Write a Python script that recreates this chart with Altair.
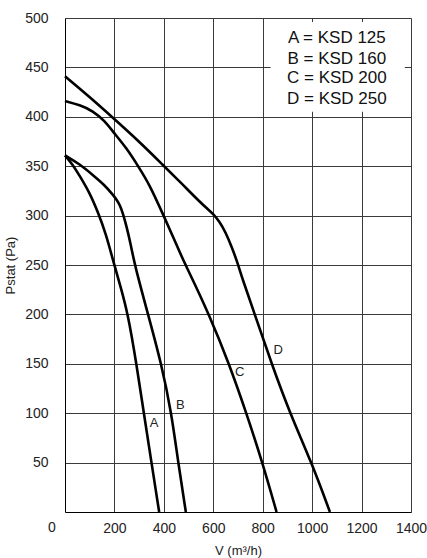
import altair as alt
import pandas as pd

FONT = "Liberation Sans"

a_x = [0, 30, 60, 100, 134, 165, 194, 225, 255, 289, 319, 350, 381]
a_y = [361, 352, 340, 323, 303, 282, 255, 228, 200, 150, 100, 50, 0]

b_x = [0, 60, 113, 160, 194, 212, 221, 235, 249, 265, 282, 336, 390, 431, 458, 489]
b_y = [361, 352, 341, 331, 321, 315, 311, 302, 289, 272, 250, 200, 150, 100, 50, 0]

c_x = [0, 60, 113, 160, 194, 250, 296, 343, 397, 440, 478, 498, 583, 664, 734, 799, 856]
c_y = [416, 412, 406, 396, 385, 368, 350, 331, 301, 277, 255, 245, 200, 150, 100, 50, 0]

d_x = [0, 100, 194, 300, 397, 470, 545, 580, 599, 625, 650, 675, 700, 715, 768, 836, 910, 998, 1072]
d_y = [441, 420, 399, 375, 351, 333, 314, 306, 302, 294, 283, 268, 251, 238, 200, 150, 100, 50, 0]

curve_names = ["A", "B", "C", "D"]
label_x = [360, 467, 707, 863]
label_y = [90, 108, 142, 164]

legend_lines = ["A = KSD 125", "B = KSD 160", "C = KSD 200", "D = KSD 250"]
legend_y = [480, 459, 439, 418]

x_ticks = [200, 400, 600, 800, 1000, 1200, 1400]
y_ticks = [50, 100, 150, 200, 250, 300, 350, 400, 450, 500]

rows = []
for name, xs_, ys_ in zip(curve_names, [a_x, b_x, c_x, d_x], [a_y, b_y, c_y, d_y]):
    for xv, yv in zip(xs_, ys_):
        rows.append({"V": xv, "P": yv, "curve": name})
curves_df = pd.DataFrame(rows)

xs = alt.Scale(domain=[0, 1400], nice=False, zero=False)
ys = alt.Scale(domain=[0, 500], nice=False, zero=False)

x_axis = alt.Axis(values=x_ticks, title="V (m³/h)", grid=True, tickSize=0, format="d",
                  labelPadding=9, titlePadding=9, labelFontSize=14, titleFontSize=13,
                  titleFontWeight="normal", labelFont=FONT, titleFont=FONT,
                  labelColor="#222", titleColor="#222", gridColor="#3a3a3a",
                  domainColor="#000", labelFlush=False)
y_axis = alt.Axis(values=y_ticks, title="Pstat (Pa)", grid=True, tickSize=0, format="d",
                  labelPadding=17, titlePadding=7, labelFontSize=14, titleFontSize=13,
                  titleFontWeight="normal", labelFont=FONT, titleFont=FONT,
                  labelColor="#222", titleColor="#222", gridColor="#3a3a3a",
                  domainColor="#000", labelFlush=False)

lines = alt.Chart(curves_df).mark_line(color="black", strokeWidth=2.6, interpolate="basis").encode(
    x=alt.X("V:Q", scale=xs, axis=x_axis),
    y=alt.Y("P:Q", scale=ys, axis=y_axis),
    detail="curve:N",
    order="V:Q",
)

labels_df = pd.DataFrame({"V": label_x, "P": label_y, "t": curve_names})
labels = alt.Chart(labels_df).mark_text(fontSize=13, font=FONT, color="#222").encode(
    x=alt.X("V:Q", scale=xs), y=alt.Y("P:Q", scale=ys), text="t:N")

box_df = pd.DataFrame({"x1": [832], "x2": [1375], "y1": [405], "y2": [496]})
box = alt.Chart(box_df).mark_rect(color="white").encode(
    x=alt.X("x1:Q", scale=xs), x2="x2:Q", y=alt.Y("y1:Q", scale=ys), y2="y2:Q")

leg_df = pd.DataFrame({"V": [1100] * 4, "P": legend_y, "t": legend_lines})
leg = alt.Chart(leg_df).mark_text(fontSize=17, font=FONT, color="#111").encode(
    x=alt.X("V:Q", scale=xs), y=alt.Y("P:Q", scale=ys), text="t:N")

zero_df = pd.DataFrame({"V": [0], "P": [0], "t": ["0"]})
zero = alt.Chart(zero_df).mark_text(fontSize=14, font=FONT, color="#222", dx=-13, dy=16).encode(
    x=alt.X("V:Q", scale=xs), y=alt.Y("P:Q", scale=ys), text="t:N")

chart = alt.layer(lines, box, leg, labels, zero).properties(
    width=346, height=494,
    autosize=alt.AutoSizeParams(type="none"),
    padding={"left": 65, "top": 18, "right": 16, "bottom": 46},
).configure_view(stroke="black", strokeWidth=1).configure(background="white")

chart.save("out.html", embed_options={"renderer": "svg", "actions": False})
